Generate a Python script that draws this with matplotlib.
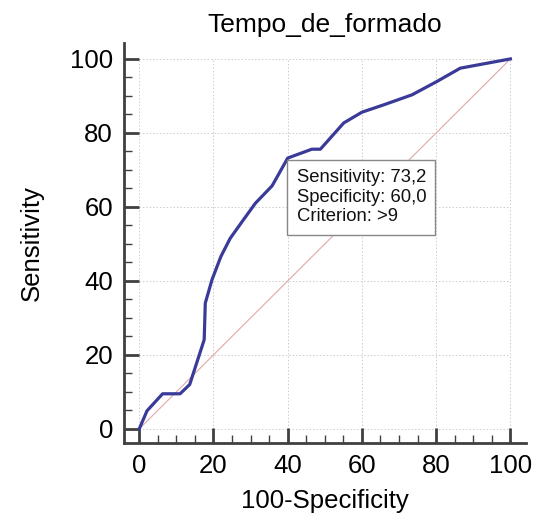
import matplotlib
matplotlib.use('Agg')
import matplotlib.pyplot as plt
from matplotlib.ticker import FixedLocator

plt.rcParams['font.family'] = ['Liberation Sans', 'DejaVu Sans']

# ROC curve points (100-Specificity, Sensitivity)
fpr = [0, 2.1, 6.3, 11.0, 13.6, 17.5, 17.8, 19.6, 22.0, 24.5, 27.7, 31.3,
       35.8, 40.0, 46.5, 48.8, 55.1, 60.0, 65.9, 73.5, 80.2, 86.5, 100]
sens = [0, 4.9, 9.5, 9.5, 12.0, 24.1, 34.0, 40.3, 46.6, 51.5, 56.0, 61.0,
        65.7, 73.2, 75.6, 75.6, 82.7, 85.6, 87.6, 90.3, 93.9, 97.5, 100]
ticks = [0, 20, 40, 60, 80, 100]
best_sens = '73,2'
best_spec = '60,0'
criterion = '>9'

fig = plt.figure(figsize=(5.34, 5.23), dpi=100)
ax = fig.add_axes([124 / 534, 80 / 523, 402 / 534, 400 / 523])

# grid limited to data range
ax.hlines(ticks, 0, 100, colors='#cccccc', linestyles=(0, (1.5, 2)), linewidth=0.7, zorder=0)
ax.vlines(ticks, 0, 100, colors='#cccccc', linestyles=(0, (1.5, 2)), linewidth=0.7, zorder=0)

# reference diagonal
ax.plot([0, 100], [0, 100], color='#e0a8a8', linewidth=0.8, zorder=1)
ax.plot(fpr, sens, color='#3a3a98', linewidth=2.3, zorder=2)

ax.text(42.4, 70.2,
        f'Sensitivity: {best_sens}\nSpecificity: {best_spec}\nCriterion: {criterion}',
        fontsize=13.3, va='top', ha='left', linespacing=1.2, color='#111111',
        bbox=dict(boxstyle='square,pad=0.5', facecolor='white', edgecolor='#888888', linewidth=1),
        zorder=3)

ax.set_xlim(-4.1, 104.2)
ax.set_ylim(-3.8, 104.3)
for s in ['top', 'right']:
    ax.spines[s].set_visible(False)
for s in ['left', 'bottom']:
    ax.spines[s].set_linewidth(2)
    ax.spines[s].set_color('#404040')

ax.set_xticks(ticks)
ax.set_yticks(ticks)
ax.xaxis.set_minor_locator(FixedLocator(range(0, 101, 5)))
ax.yaxis.set_minor_locator(FixedLocator(range(0, 101, 5)))
ax.tick_params(which='major', direction='in', length=11, width=2, color='#404040',
               labelsize=18.5, pad=8)
ax.tick_params(which='minor', direction='in', length=5.5, width=1, color='#404040')

ax.set_xlabel('100-Specificity', fontsize=18.5, labelpad=8)
ax.set_ylabel('Sensitivity', fontsize=18.5, labelpad=19)
ax.set_title('Tempo_de_formado', fontsize=19, pad=8)

fig.savefig('out.png', dpi=100)
